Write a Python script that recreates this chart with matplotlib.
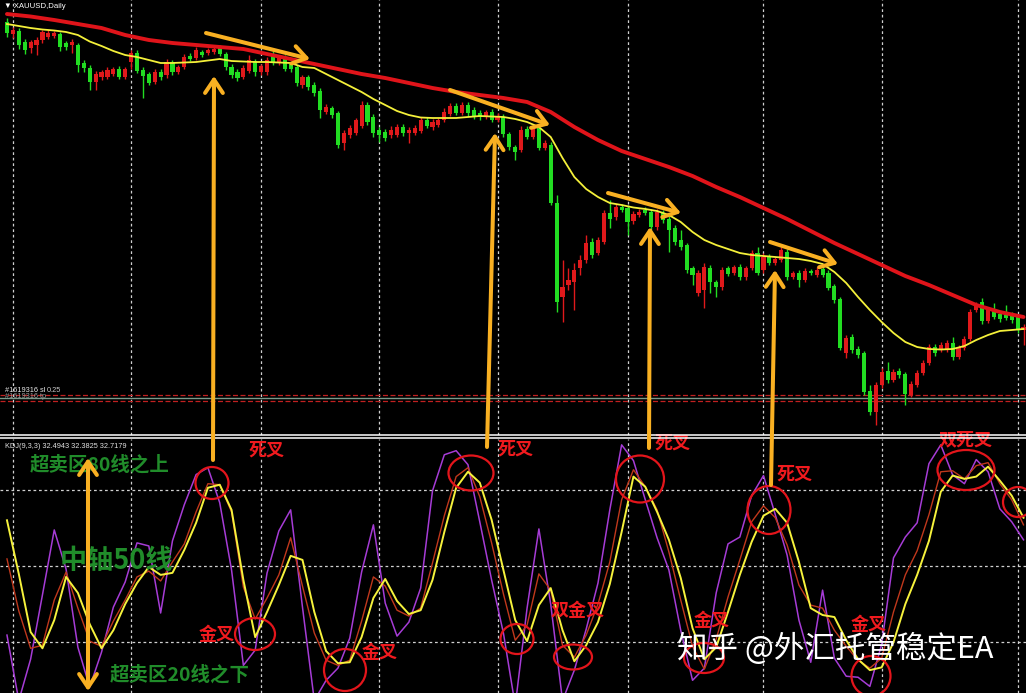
import matplotlib
matplotlib.use("Agg")
import matplotlib.pyplot as plt
import numpy as np
from matplotlib.patches import Ellipse, FancyArrowPatch
from matplotlib.lines import Line2D

plt.rcParams['font.family'] = ['Noto Sans CJK SC', 'DejaVu Sans']

# ---------------- data: XAUUSD daily candles ----------------
opens = [
    1578, 1566, 1569, 1558, 1552, 1555, 1560, 1563, 1564, 1566,
    1557, 1555, 1555, 1537, 1532, 1518, 1523, 1523, 1526, 1531,
    1523, 1538, 1547, 1530, 1526, 1518, 1528, 1525, 1538, 1528,
    1533, 1544, 1542, 1548, 1547, 1548, 1552, 1546, 1533, 1528,
    1523, 1529, 1539, 1528, 1528, 1545, 1537, 1542, 1536, 1533,
    1515, 1523, 1515, 1509, 1488, 1492, 1487, 1457, 1465, 1467,
    1474, 1495, 1483, 1470, 1468, 1465, 1465, 1473, 1467, 1467,
    1469, 1480, 1473, 1475, 1480, 1486, 1494, 1487, 1495, 1490,
    1487, 1483, 1488, 1480, 1483, 1466, 1453, 1450, 1471, 1463,
    1472, 1452, 1455, 1397, 1303, 1315, 1318, 1332, 1340, 1358,
    1347, 1358, 1387, 1383, 1393, 1392, 1379, 1385, 1390, 1388,
    1373, 1387, 1381, 1372, 1360, 1355, 1332, 1307, 1310, 1332,
    1318, 1313, 1332, 1327, 1333, 1323, 1332, 1347, 1330, 1343,
    1337, 1340, 1348, 1323, 1327, 1320, 1329, 1325, 1331, 1327,
    1314, 1301, 1247, 1263, 1251, 1247, 1209, 1188, 1215, 1229,
    1220, 1229, 1226, 1205, 1215, 1227, 1237, 1253, 1250, 1250,
    1257, 1243, 1252, 1261, 1290, 1298, 1279, 1290, 1286, 1285,
    1285, 1283, 1270]
closes = [
    1567, 1570, 1555, 1550, 1558, 1560, 1568, 1567, 1567, 1553,
    1553, 1558, 1535, 1532, 1518, 1526, 1528, 1530, 1531, 1523,
    1531, 1547, 1529, 1524, 1517, 1528, 1523, 1538, 1528, 1533,
    1543, 1541, 1550, 1545, 1550, 1551, 1546, 1533, 1525, 1522,
    1532, 1540, 1528, 1534, 1540, 1537, 1542, 1531, 1531, 1517,
    1523, 1513, 1507, 1490, 1493, 1485, 1455, 1467, 1472, 1480,
    1495, 1478, 1467, 1465, 1462, 1470, 1473, 1467, 1470, 1472,
    1480, 1474, 1478, 1480, 1488, 1494, 1487, 1495, 1487, 1483,
    1483, 1488, 1480, 1484, 1466, 1453, 1448, 1470, 1463, 1472,
    1452, 1457, 1397, 1298, 1313, 1320, 1330, 1340, 1357, 1345,
    1360, 1387, 1381, 1393, 1390, 1378, 1386, 1388, 1387, 1373,
    1388, 1380, 1370, 1358, 1353, 1330, 1325, 1327, 1333, 1318,
    1313, 1330, 1326, 1333, 1323, 1332, 1347, 1327, 1343, 1337,
    1341, 1350, 1323, 1327, 1320, 1329, 1327, 1330, 1325, 1312,
    1300, 1252, 1262, 1250, 1245, 1208, 1188, 1215, 1228, 1220,
    1228, 1225, 1206, 1216, 1227, 1237, 1253, 1247, 1255, 1257,
    1243, 1252, 1261, 1288, 1295, 1279, 1290, 1283, 1281, 1282,
    1280, 1270, 1273]
highs = [
    1582, 1573, 1572, 1561, 1560, 1563, 1570, 1570, 1569, 1568,
    1559, 1561, 1557, 1540, 1535, 1529, 1530, 1533, 1533, 1534,
    1533, 1550, 1550, 1533, 1528, 1531, 1531, 1541, 1540, 1535,
    1546, 1547, 1553, 1550, 1552, 1553, 1555, 1548, 1536, 1531,
    1535, 1545, 1541, 1536, 1543, 1549, 1545, 1545, 1538, 1535,
    1525, 1525, 1518, 1512, 1496, 1494, 1489, 1470, 1475, 1482,
    1499, 1498, 1486, 1473, 1471, 1474, 1476, 1476, 1473, 1475,
    1483, 1483, 1481, 1482, 1492, 1497, 1497, 1498, 1498, 1493,
    1490, 1490, 1491, 1487, 1486, 1468, 1455, 1474, 1474, 1475,
    1475, 1460, 1458, 1405, 1340, 1332, 1337, 1345, 1365, 1362,
    1363, 1390, 1400, 1396, 1396, 1395, 1389, 1391, 1393, 1391,
    1391, 1390, 1384, 1375, 1370, 1357, 1334, 1330, 1337, 1335,
    1320, 1333, 1334, 1335, 1336, 1334, 1350, 1353, 1347, 1346,
    1343, 1353, 1351, 1329, 1330, 1332, 1331, 1333, 1333, 1330,
    1316, 1303, 1265, 1266, 1254, 1249, 1215, 1218, 1232, 1238,
    1231, 1232, 1228, 1219, 1230, 1240, 1256, 1256, 1258, 1260,
    1263, 1255, 1264, 1291, 1298, 1302, 1293, 1297, 1289, 1295,
    1288, 1286, 1276]
lows = [
    1563, 1562, 1551, 1546, 1547, 1545, 1557, 1561, 1562, 1549,
    1550, 1547, 1528, 1528, 1510, 1510, 1520, 1521, 1524, 1521,
    1521, 1531, 1527, 1502, 1515, 1516, 1520, 1522, 1525, 1526,
    1531, 1539, 1540, 1543, 1545, 1546, 1544, 1530, 1522, 1519,
    1521, 1527, 1524, 1525, 1525, 1535, 1535, 1529, 1528, 1514,
    1512, 1510, 1504, 1482, 1486, 1482, 1452, 1450, 1462, 1465,
    1472, 1475, 1463, 1458, 1459, 1462, 1463, 1464, 1457, 1465,
    1467, 1472, 1470, 1473, 1478, 1484, 1485, 1485, 1484, 1481,
    1480, 1481, 1478, 1478, 1463, 1450, 1440, 1448, 1461, 1461,
    1450, 1450, 1395, 1288, 1278, 1310, 1290, 1325, 1337, 1342,
    1345, 1356, 1372, 1380, 1388, 1365, 1376, 1383, 1385, 1370,
    1370, 1377, 1348, 1355, 1350, 1327, 1315, 1304, 1292, 1307,
    1303, 1310, 1324, 1325, 1320, 1320, 1330, 1325, 1327, 1335,
    1335, 1338, 1320, 1321, 1313, 1318, 1325, 1323, 1323, 1310,
    1297, 1250, 1242, 1247, 1242, 1205, 1185, 1175, 1212, 1217,
    1218, 1222, 1195, 1203, 1213, 1225, 1235, 1244, 1248, 1248,
    1240, 1241, 1250, 1259, 1288, 1276, 1277, 1281, 1278, 1280,
    1277, 1267, 1255]

# fast moving average (yellow), sampled every 2nd bar
ma_fast_idx = list(range(0, 173, 2))
ma_fast = [1576, 1574, 1572, 1570.5, 1569.5, 1568, 1565, 1558.5, 1554, 1549,
           1545, 1543, 1540, 1537, 1537, 1537.5, 1538, 1539.5, 1541, 1539,
           1538.5, 1538, 1538, 1537.5, 1537, 1533, 1532, 1526, 1520, 1514,
           1508, 1501, 1495, 1489, 1485, 1482.5, 1482, 1482, 1482, 1483,
           1484, 1483.5, 1483, 1481, 1478, 1473, 1463, 1442, 1423, 1411,
           1403, 1397, 1395, 1392.5, 1391, 1389, 1385, 1378, 1368, 1360,
           1355, 1351, 1347, 1345, 1344, 1343, 1342, 1341, 1339, 1336,
           1328, 1317, 1303, 1290, 1278, 1267, 1258, 1253, 1251, 1250.5,
           1251, 1254, 1260, 1265, 1269, 1270, 1271]
# slow moving average (red), sampled every 4th bar
ma_slow_idx = list(range(0, 173, 4))
ma_slow = [1586, 1583.5, 1580, 1576, 1572, 1565, 1560, 1557, 1555, 1553,
           1551, 1546, 1541, 1536, 1531, 1526, 1522, 1517, 1512, 1508,
           1505, 1502, 1498, 1488, 1473, 1460, 1449, 1441, 1433, 1424,
           1413, 1403, 1392, 1381, 1369, 1357, 1346, 1335, 1324, 1315,
           1305, 1295, 1288, 1283]

# order levels (sl / tp)
sl_levels = [1205, 1199]
entry_level = 1202

# KDJ(9,3,3), sampled every 2nd bar
kdj_idx = list(range(0, 173, 2))
kdj_k = [52.8, 32.3, 17.6, 18.8, 36.6, 47.6, 33.4, 20.4, 18.4, 28.3,
         36.6, 45.7, 48, 44.1, 51.6, 58.7, 71.3, 82.4, 82, 71.3,
         41.7, 29.1, 37.4, 46.5, 61.1, 42.1, 23.6, 12.9, 10.9, 12.9,
         28.3, 45.7, 42.1, 32.6, 30.3, 33.4, 51.2, 69.8, 85.2, 88.7,
         77.3, 59.1, 39, 20.8, 26.7, 46.9, 40.5, 18.8, 14.1, 22.8,
         35, 51.6, 76.1, 87.9, 81.2, 72.1, 55.5, 36.6, 18.4, 9.4,
         21.2, 37.8, 52.4, 67.4, 73.7, 69, 58.3, 42.5, 34.6, 33.4,
         24.7, 18.4, 12.9, 9.8, 13.7, 31.9, 46.5, 56, 70.2, 87.1,
         87.5, 84.3, 89.5, 90.7, 82.4, 76.1, 66.2]
kdj_d = [68, 46.9, 24, 17.6, 28.7, 45.7, 39.4, 27.1, 17.6, 24.7,
         35, 43.3, 49.6, 46.5, 47.3, 56.3, 67, 80.8, 82, 72.1,
         44.5, 22, 31.9, 42.5, 54, 52.4, 31.9, 16.5, 11.7, 12.1,
         22, 37.4, 44.9, 36.2, 31.1, 32.6, 44.5, 63.4, 80.8, 87.1,
         82.8, 68.2, 48.4, 28.7, 20.4, 34.6, 41.3, 24.7, 12.5, 18.8,
         27.9, 42.9, 63.4, 85.2, 81.2, 71.3, 60.3, 45.3, 25.5, 13.3,
         18, 31.9, 46.5, 59.5, 69.8, 72.5, 67, 51.6, 33.4, 30.7,
         29.9, 20.8, 13.3, 9, 10.1, 20, 35, 46.5, 59.9, 79.2,
         85.6, 84.3, 85.2, 89.1, 83.6, 77.7, 69]
kdj_j = [22.8, -3, 13.3, 38.6, 64.2, 48.8, 18, 2.3, 16.1, 33.8,
         43.7, 59.1, 57.9, 31.5, 59.9, 74.1, 86, 88.7, 74.9, 48.4,
         10.9, 16.9, 47.2, 63.8, 72.1, 33.8, -3, 5, 9.8, 21.6,
         47.6, 66.2, 35.4, 22.4, 27.9, 41.3, 79.6, 93.8, 95.4, 89.9,
         67.4, 44.5, 23.6, -5, 33.4, 64.6, 35, -3, 9, 25.1,
         43.3, 72.1, 97.7, 91.5, 76.1, 61.1, 48.4, 24.7, 5, 9.8,
         39.4, 58.7, 61.4, 77.7, 85.6, 70.2, 54.3, 28.7, 12.1, 40.5,
         13.7, 6.6, 6.2, 2.6, 19.2, 53.2, 61.4, 67, 90.3, 97.7,
         85.9, 82.4, 91.9, 87.1, 72.5, 67.4, 60.3]
kdj_levels = [20, 50, 80]

# month separators (bar index)
grid_idx = [1, 21, 43, 63, 83, 105, 128, 148, 171]

# ---------------- styling ----------------
W, H = 1026, 693
BG = 'black'
UP = '#e0191b'
DOWN = '#22dd22'
ARROW = '#f9b022'
CIRCLE = '#e3151b'
LABEL_RED = '#f01a1e'
LABEL_GREEN = '#208c2a'
GRID = '#d0d0d0'
XLIM = (-1.18, 172.42)

fig = plt.figure(figsize=(W / 100, H / 100), dpi=100, facecolor=BG)


def F(x, y):
    """pixel position -> figure fraction"""
    return (x / W, 1 - y / H)


# ---------- price panel ----------
ax = fig.add_axes([0, 1 - 435 / H, 1, 435 / H])
ax.set_xlim(*XLIM)
ax.set_ylim(1165, 1600)
ax.axis('off')

idx = np.arange(len(closes))
o = np.array(opens, float)
c = np.array(closes, float)
hi = np.array(highs, float)
lo = np.array(lows, float)
col = np.where(c > o, UP, DOWN)
body = c - o
body = np.where(np.abs(body) < 1.2, 1.2, body)

for g in grid_idx:
    ax.axvline(g, color=GRID, lw=0.9, ls=(0, (2.2, 2.2)), zorder=1)
for lvl in sl_levels:
    ax.axhline(lvl, color='#c02020', lw=0.9, ls=(0, (4, 2)), zorder=1.5)
ax.axhline(entry_level, color='#7a9a8a', lw=1.0, zorder=1.5)

ax.vlines(idx, lo, hi, colors=col, lw=1.0, zorder=2)
ax.bar(idx, body, bottom=o, width=0.7, color=col, linewidth=0, zorder=3)
ax.plot(ma_slow_idx, ma_slow, color='#e0141a', lw=2.8, zorder=4,
        solid_capstyle='round')
ax.plot(ma_fast_idx, ma_fast, color='#f4f03a', lw=1.3, zorder=4)

# ---------- KDJ panel ----------
ax2 = fig.add_axes([0, 0, 1, 254 / H])
ax2.set_xlim(*XLIM)
ax2.set_ylim(0, 100)
ax2.axis('off')
for g in grid_idx:
    ax2.axvline(g, color=GRID, lw=0.9, ls=(0, (2.2, 2.2)), zorder=1)
for lv in kdj_levels:
    ax2.axhline(lv, color=GRID, lw=0.9, ls=(0, (2.2, 2.2)), zorder=1)
ax2.plot(kdj_idx, kdj_j, color='#a63cd6', lw=1.1, zorder=2)
ax2.plot(kdj_idx, kdj_k, color='#c0381c', lw=1.0, zorder=3)
ax2.plot(kdj_idx, kdj_d, color='#f6f23c', lw=1.4, zorder=4)

# ---------- separators ----------
for yy in (435, 438):
    fig.add_artist(Line2D([0, 1], [F(0, yy)[1]] * 2, transform=fig.transFigure,
                          color='white', lw=1.1, zorder=6))

# ---------- header texts ----------
small = ['Liberation Sans', 'DejaVu Sans']
fig.text(*F(4, 7), '\u25bc XAUUSD,Daily', color='white', fontsize=5.6,
         family=small, va='center', ha='left')
fig.text(*F(5, 390), '#1619316 sl', color='#e8e8e8', fontsize=5.3,
         family=small, va='center', ha='left', zorder=3)
fig.text(*F(5, 396), '#1619316 tp', color='#9a9a9a', fontsize=5.3,
         family=small, va='center', ha='left', zorder=2)
fig.text(*F(47, 391), '0.25', color='#c8c8c8', fontsize=5.3,
         family=small, va='center', ha='left')
fig.text(*F(5, 446), 'KDJ(9,3,3) 32.4943 32.3825 32.7179', color='#e0e0e0',
         fontsize=5.3, family=small, va='center', ha='left')

# ---------- annotation arrows ----------
def arrow(p0, p1, style='->', lw=2.9):
    a = FancyArrowPatch(F(*p0), F(*p1), transform=fig.transFigure,
                        arrowstyle=style + ',head_length=0.6,head_width=0.4',
                        mutation_scale=16, color=ARROW, lw=lw,
                        shrinkA=0, shrinkB=0, zorder=8)
    fig.add_artist(a)


for p0, p1 in [((206, 33), (310, 59)), ((450, 90), (550, 125)),
               ((608, 193), (681, 213)), ((770, 242), (838, 264))]:
    arrow(p0, p1)
for p0, p1 in [((213, 460), (214, 76)), ((487, 447), (495, 133)),
               ((649, 448), (650, 227)), ((771, 485), (775, 270))]:
    arrow(p0, p1)
arrow((88, 458), (88, 691), style='<->')

# ---------- circles ----------
circles = [(212, 483, 33, 32), (471, 473, 45, 35), (255, 634, 40, 32),
           (345, 670, 42, 42), (517, 639, 33, 30), (573, 657, 38, 25),
           (640, 479, 48, 47), (704, 658, 40, 30), (769, 510, 43, 48),
           (871, 676, 39, 40), (966, 470, 57, 40), (1018, 502, 30, 30)]
for cx, cy, w, h in circles:
    fig.add_artist(Ellipse(F(cx, cy), w / W, h / H, transform=fig.transFigure,
                           fill=False, ec=CIRCLE, lw=1.6, zorder=7))

# ---------- labels ----------
red_labels = [(267, 450, '死叉'), (516, 449, '死叉'), (673, 443, '死叉'),
              (795, 474, '死叉'), (966, 440, '双死叉'), (217, 635, '金叉'),
              (380, 652, '金叉'), (578, 610, '双金叉'), (712, 621, '金叉'),
              (869, 624, '金叉')]
for x, y, s in red_labels:
    fig.text(*F(x, y), s, color=LABEL_RED, fontsize=13, fontweight='bold',
             ha='center', va='center', zorder=5)

fig.text(*F(30, 465), '超卖区80线之上', color=LABEL_GREEN, fontsize=14,
         fontweight='bold', ha='left', va='center', zorder=5)
fig.text(*F(60, 561), '中轴50线', color=LABEL_GREEN, fontsize=19.5,
         fontweight='bold', ha='left', va='center', zorder=5)
fig.text(*F(110, 675), '超卖区20线之下', color=LABEL_GREEN, fontsize=14,
         fontweight='bold', ha='left', va='center', zorder=5)

fig.text(*F(677, 649), '知乎 @外汇托管稳定EA', color='white', fontsize=22,
         ha='left', va='center', zorder=9)

fig.savefig('out.png', dpi=100, facecolor=BG)
